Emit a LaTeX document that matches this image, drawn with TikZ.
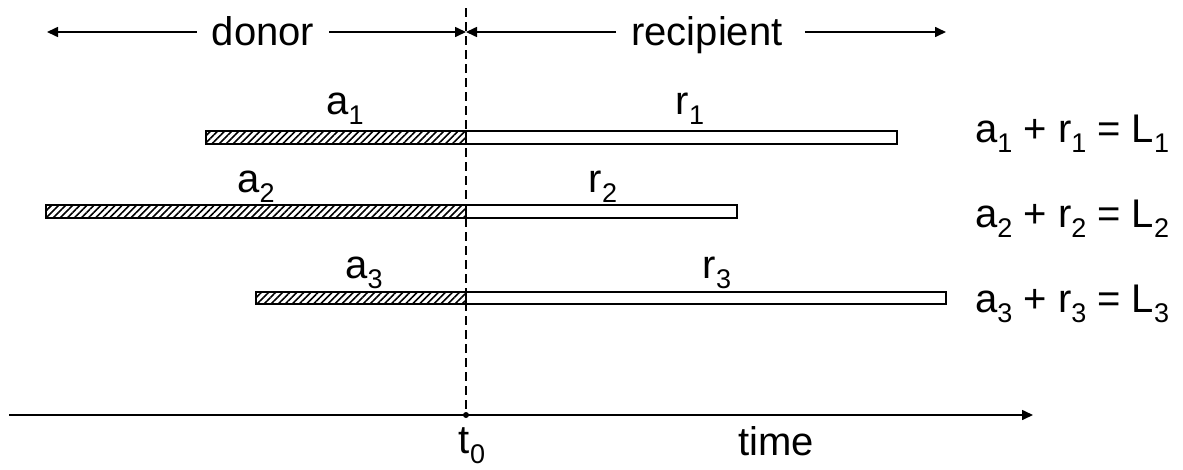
\documentclass[tikz,border=0pt]{standalone}
\usepackage{fontspec}
\setmainfont{Liberation Sans}
\usetikzlibrary{arrows.meta,patterns.meta}
\newcommand{\lowsub}[1]{\raisebox{-0.25em}{\fontsize{27}{27}\selectfont #1}}
\begin{document}
\begin{tikzpicture}[x=1pt,y=-1pt,
  lbl/.style={anchor=base,inner sep=0pt,font=\fontsize{40}{40}\selectfont},
  arr/.style={line width=1.6pt,-{Triangle[length=11pt,width=10pt]}},
  hbar/.style={draw,line width=1.6pt,pattern={Lines[angle=45,distance=5pt,line width=1.6pt]}},
  wbar/.style={draw,line width=1.6pt,fill=white},
]
\useasboundingbox (0,0) rectangle (1183,469);
% top arrows
\node[lbl] (donor) at (263,45) {donor};
\node[lbl] (recip) at (707,45) {recipient};
\coordinate (dl) at (47,32);
\coordinate (mid) at (466,32);
\coordinate (rr) at (946,32);
\draw[arr] ([xshift=-15pt]donor.west |- dl) -- (dl);
\draw[arr] ([xshift=15pt]donor.east |- mid) -- (mid);
\draw[arr] ([xshift=-15pt]recip.west |- mid) -- (mid);
\draw[arr] ([xshift=22pt]recip.east |- rr) -- (rr);
% bars
\draw[hbar] (206,131) rectangle (466,144);
\draw[wbar] (466,131) rectangle (897,144);
\draw[hbar] (46,205) rectangle (466,218);
\draw[wbar] (466,205) rectangle (737,218);
\draw[hbar] (256,292) rectangle (466,304);
\draw[wbar] (466,292) rectangle (946,304);
% bar labels
\node[lbl] (a1) at (345,114) {a\lowsub{1}};
\node[lbl] (r1) at (690,114) {r\lowsub{1}};
\node[lbl] (a2) at (256,192) {a\lowsub{2}};
\node[lbl] (r2) at (603,192) {r\lowsub{2}};
\node[lbl] (a3) at (364,278) {a\lowsub{3}};
\node[lbl] (r3) at (717,278) {r\lowsub{3}};
% equations
\node[lbl,anchor=base west] (e1) at (975,142) {a\lowsub{1} + r\lowsub{1} = L\lowsub{1}};
\node[lbl,anchor=base west] (e2) at (975,227) {a\lowsub{2} + r\lowsub{2} = L\lowsub{2}};
\node[lbl,anchor=base west] (e3) at (975,312) {a\lowsub{3} + r\lowsub{3} = L\lowsub{3}};
% time axis
\coordinate (ax0) at (9,415);
\coordinate (ax1) at (1033,415);
\draw[arr] (ax0) -- (ax1);
\coordinate (top) at (466,8);
\node[circle,fill,inner sep=0pt,minimum size=6pt] (t0dot) at (466,415) {};
\draw[line width=1.4pt,dash pattern=on 9pt off 5pt] (top) -- (t0dot);
\node[lbl] (t0) at (472,453) {t\lowsub{0}};
\node[lbl] (time) at (776,455) {time};
\end{tikzpicture}
\end{document}
